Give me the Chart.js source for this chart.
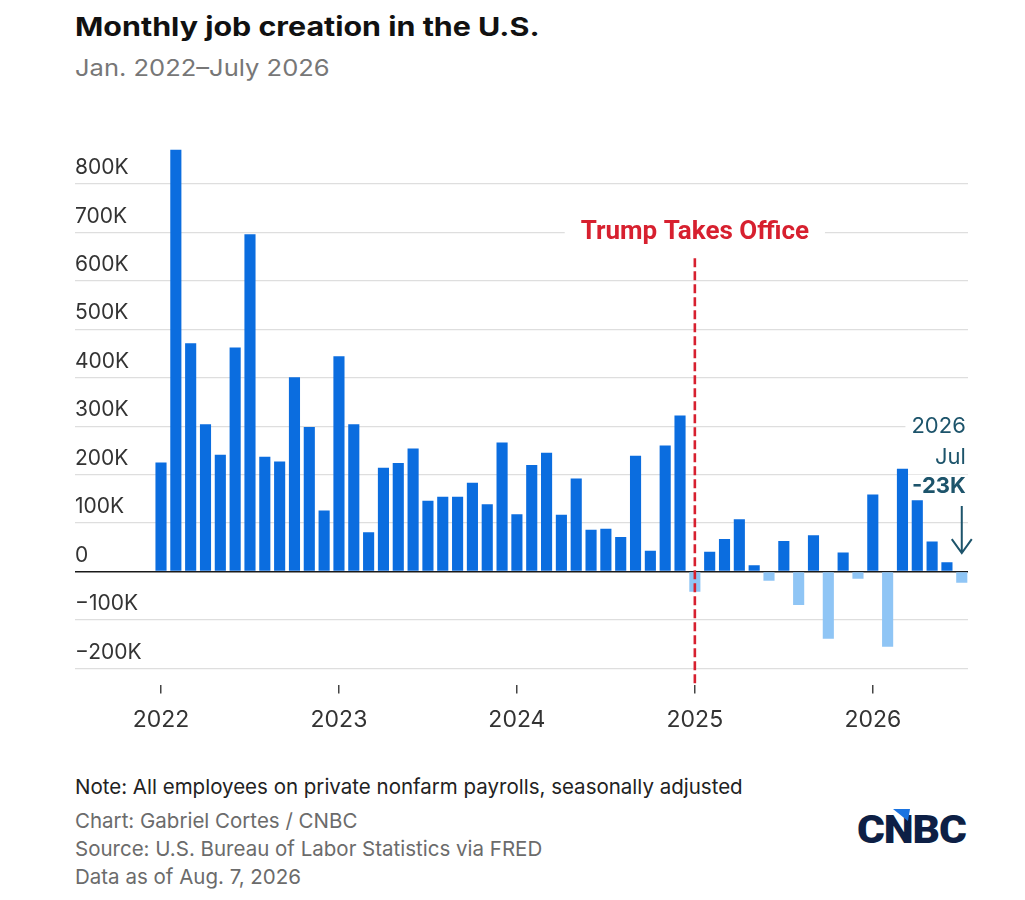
<!DOCTYPE html>
<html>
<head>
<meta charset="utf-8">
<title>Monthly job creation in the U.S.</title>
<script src="https://cdn.jsdelivr.net/npm/chart.js@4.4.1/dist/chart.umd.min.js"></script>
<style>
  html, body { margin: 0; padding: 0; background: #fff; }
  body { width: 1025px; height: 900px; position: relative; overflow: hidden; font-family: Inter, "Noto Sans", sans-serif; }
  .txt { position: absolute; left: 75px; line-height: 1; white-space: nowrap; transform-origin: left top; }
  #title { top: 14px; font-size: 26px; font-weight: 700; color: #111; transform: scaleX(1.17); }
  #subtitle { top: 57px; font-size: 23px; color: #777; transform: scaleX(1.11); }
  #note { top: 777px; font-size: 20.5px; color: #222; }
  .src { font-size: 20.5px; color: #6b6b6b; }
  #chartBox { position: absolute; left: 0; top: 97px; width: 1025px; height: 650px; }
  #logo { position: absolute; left: 857px; top: 811px; font-family: Roboto, sans-serif; font-weight: 900; font-size: 38px; line-height: 1; color: #0d1f45; letter-spacing: -1px; transform-origin: left top; transform: scaleX(1.12); }
  #logoMark { position: absolute; left: 893px; top: 809px; width: 17px; height: 12px; background: #1a73e0; clip-path: polygon(0 0, 100% 0, 88% 100%); }
</style>
</head>
<body>
<div id="title" class="txt">Monthly job creation in the U.S.</div>
<div id="subtitle" class="txt">Jan. 2022–July 2026</div>

<div id="chartBox"><canvas id="jobsChart"></canvas></div>

<div id="note" class="txt">Note: All employees on private nonfarm payrolls, seasonally adjusted</div>
<div class="txt src" style="top:811px">Chart: Gabriel Cortes / CNBC</div>
<div class="txt src" style="top:839px">Source: U.S. Bureau of Labor Statistics via FRED</div>
<div class="txt src" style="top:867px">Data as of Aug. 7, 2026</div>
<div id="logo">CNBC</div>
<div id="logoMark"></div>

<script>
// Months, Jan 2022 - Jul 2026
const months = [
    'Jan 2022', 'Feb 2022', 'Mar 2022', 'Apr 2022', 'May 2022', 'Jun 2022', 'Jul 2022', 'Aug 2022', 'Sep 2022', 'Oct 2022', 'Nov 2022', 'Dec 2022',
    'Jan 2023', 'Feb 2023', 'Mar 2023', 'Apr 2023', 'May 2023', 'Jun 2023', 'Jul 2023', 'Aug 2023', 'Sep 2023', 'Oct 2023', 'Nov 2023', 'Dec 2023',
    'Jan 2024', 'Feb 2024', 'Mar 2024', 'Apr 2024', 'May 2024', 'Jun 2024', 'Jul 2024', 'Aug 2024', 'Sep 2024', 'Oct 2024', 'Nov 2024', 'Dec 2024',
    'Jan 2025', 'Feb 2025', 'Mar 2025', 'Apr 2025', 'May 2025', 'Jun 2025', 'Jul 2025', 'Aug 2025', 'Sep 2025', 'Oct 2025', 'Nov 2025', 'Dec 2025',
    'Jan 2026', 'Feb 2026', 'Mar 2026', 'Apr 2026', 'May 2026', 'Jun 2026', 'Jul 2026'
];

// Jobs added, thousands
const jobsAdded = [
    225, 870, 471, 304, 241, 462, 696, 237, 227, 401, 298, 126,
    444, 304, 81, 214, 224, 254, 146, 154, 154, 183, 139, 266,
    118, 220, 245, 117, 192, 86, 88, 71, 239, 43, 260, 322,
    -42, 41, 67, 108, 13, -19, 63, -69, 75, -139, 39, -15,
    159, -155, 212, 147, 62, 19, -23
];

const yTicks = [-200, -100, 0, 100, 200, 300, 400, 500, 600, 700, 800];
const yearTicks = [0, 12, 24, 36, 48];
const yearLabels = ['2022', '2023', '2024', '2025', '2026'];

const inaugurationIndex = 36;   // Jan 2025
const eventLabel = 'Trump Takes Office';
const lastLabel = ['2026', 'Jul', '-23K'];

const BLUE = '#0b6ddf';
const LIGHT_BLUE = '#8fc5f5';
const RED = '#d7202f';
const TEAL = '#1d546b';

// labels sit under the bars, so the white boxes only hide gridlines
const annotationLabels = {
    id: 'annotationLabels',
    beforeDatasetsDraw(chart) {
        const ctx = chart.ctx;
        const x = chart.scales.x;
        const y = chart.scales.y;

        const ex = x.getPixelForValue(inaugurationIndex);
        const ey = y.getPixelForValue(700);
        ctx.save();
        ctx.font = 'bold 26px Roboto, sans-serif';
        const tw = ctx.measureText(eventLabel).width;
        ctx.fillStyle = '#fff';
        ctx.fillRect(ex - tw / 2 - 16, ey - 15, tw + 32, 30);
        ctx.fillStyle = RED;
        ctx.textAlign = 'center';
        ctx.textBaseline = 'middle';
        ctx.fillText(eventLabel, ex, ey);
        ctx.restore();

        // Last value callout
        const lx = x.getPixelForValue(jobsAdded.length - 1) + 4;
        const rows = [y.getPixelForValue(300), y.getPixelForValue(236), y.getPixelForValue(175)];
        const fonts = ['22px Inter, sans-serif', '22px Inter, sans-serif', 'bold 22px Inter, sans-serif'];
        ctx.save();
        ctx.textAlign = 'right';
        ctx.textBaseline = 'middle';
        lastLabel.forEach((t, i) => {
            ctx.font = fonts[i];
            const w = ctx.measureText(t).width;
            ctx.fillStyle = '#fff';
            ctx.fillRect(lx - w - 6, rows[i] - 12, w + 8, 24);
            ctx.fillStyle = TEAL;
            ctx.fillText(t, lx, rows[i]);
        });
        ctx.restore();
    }
};

const annotationLines = {
    id: 'annotationLines',
    afterDatasetsDraw(chart) {
        const ctx = chart.ctx;
        const x = chart.scales.x;
        const y = chart.scales.y;
        const area = chart.chartArea;

        // dashed line for Jan 2025
        const ex = x.getPixelForValue(inaugurationIndex);
        ctx.save();
        ctx.strokeStyle = RED;
        ctx.lineWidth = 2.6;
        ctx.setLineDash([9, 4]);
        ctx.beginPath();
        ctx.moveTo(ex, y.getPixelForValue(700) + 26);
        ctx.lineTo(ex, area.bottom);
        ctx.stroke();
        ctx.restore();

        // arrow
        const ax = x.getPixelForValue(jobsAdded.length - 1);
        const aTop = y.getPixelForValue(135);
        const aBot = y.getPixelForValue(38);
        ctx.save();
        ctx.strokeStyle = TEAL;
        ctx.lineWidth = 2;
        ctx.beginPath();
        ctx.moveTo(ax, aTop);
        ctx.lineTo(ax, aBot);
        ctx.moveTo(ax - 10, aBot - 14);
        ctx.lineTo(ax, aBot);
        ctx.lineTo(ax + 10, aBot - 14);
        ctx.stroke();
        ctx.restore();
    }
};

new Chart(document.getElementById('jobsChart'), {
    type: 'bar',
    data: {
        datasets: [{
            label: 'Jobs added',
            data: jobsAdded.map((v, i) => ({ x: i, y: v })),
            backgroundColor: jobsAdded.map(v => v >= 0 ? BLUE : LIGHT_BLUE),
            borderWidth: 0,
            barPercentage: 0.75,
            categoryPercentage: 1.0
        }]
    },
    options: {
        responsive: true,
        maintainAspectRatio: false,
        animation: false,
        layout: {
            padding: { left: 75, right: 57, top: 48, bottom: 0 }
        },
        plugins: {
            legend: { display: false },
            tooltip: {
                callbacks: {
                    title: items => months[items[0].parsed.x],
                    label: item => item.parsed.y + 'K'
                }
            }
        },
        scales: {
            x: {
                type: 'linear',
                offset: false,
                min: -5.8,
                max: 54.42,
                afterBuildTicks: scale => {
                    scale.ticks = yearTicks.map(v => ({ value: v }));
                },
                ticks: {
                    color: '#333',
                    padding: 13,
                    font: { family: 'Inter', size: 23 },
                    callback: v => yearLabels[yearTicks.indexOf(v)]
                },
                grid: {
                    offset: false,
                    drawOnChartArea: false,
                    drawTicks: true,
                    tickLength: 8,
                    color: '#444',
                    lineWidth: 1.5
                },
                border: { display: false }
            },
            y: {
                min: -235,
                max: 880,
                afterBuildTicks: scale => {
                    scale.ticks = yTicks.map(v => ({ value: v }));
                },
                ticks: {
                    mirror: true,
                    padding: 0,
                    labelOffset: -16,
                    color: '#333',
                    font: { family: 'Inter', size: 21 },
                    callback: v => v === 0 ? '0' : (v < 0 ? '\u2212' + Math.abs(v) : v) + 'K'
                },
                grid: {
                    drawTicks: false,
                    color: c => c.tick && c.tick.value === 0 ? '#1a1a1a' : '#dedede',
                    lineWidth: c => c.tick && c.tick.value === 0 ? 1.6 : 1.2
                },
                border: { display: false }
            }
        }
    },
    plugins: [annotationLabels, annotationLines]
});
</script>
</body>
</html>
